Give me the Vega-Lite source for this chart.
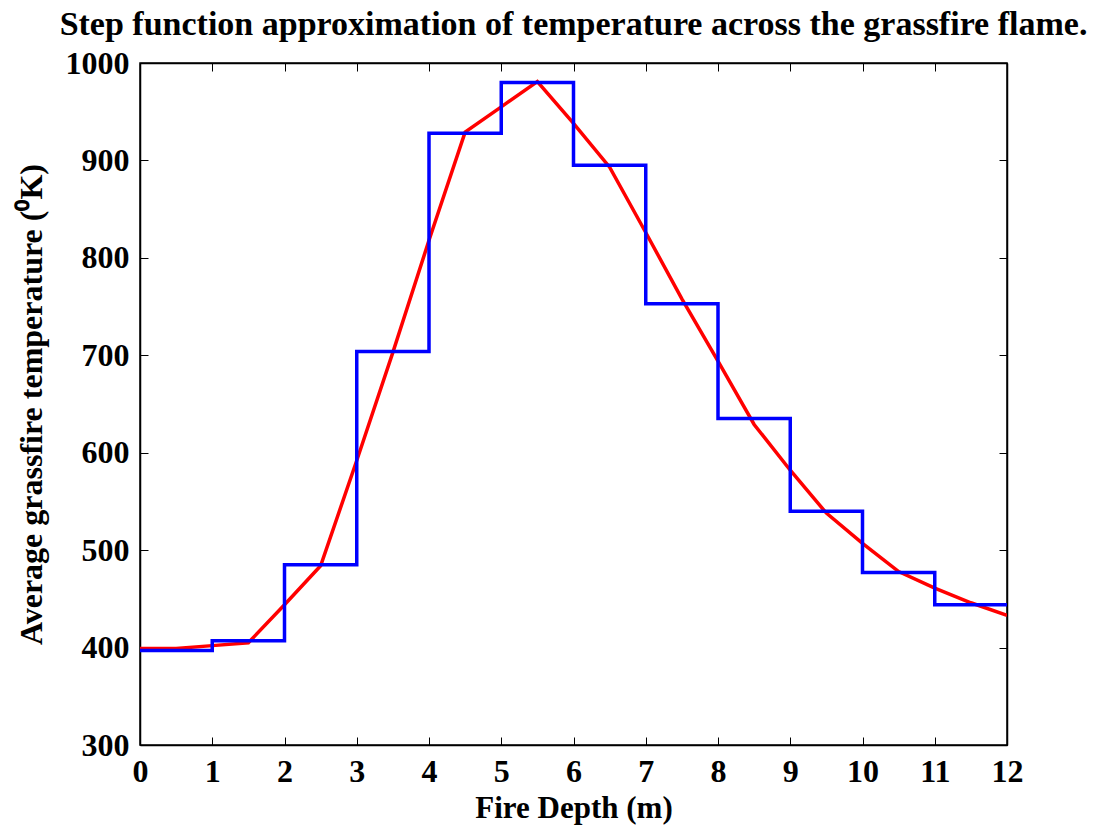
{
  "$schema": "https://vega.github.io/schema/vega-lite/v6.json",
  "autosize": {"type": "none"},
  "padding": {"left": 140, "top": 63, "right": 90, "bottom": 82},
  "width": 867,
  "height": 682,
  "background": "white",
  "title": {
    "text": "Step function approximation of temperature across the grassfire flame.",
    "font": "Liberation Serif",
    "fontSize": 34,
    "fontWeight": "bold",
    "color": "black",
    "anchor": "middle",
    "offset": 5
  },
  "datasets": {
    "curve": [
      {"x": 0, "t": 399}, {"x": 0.5, "t": 399}, {"x": 1, "t": 402}, {"x": 1.5, "t": 405},
      {"x": 2, "t": 444}, {"x": 2.5, "t": 484}, {"x": 3, "t": 592}, {"x": 3.5, "t": 703},
      {"x": 4, "t": 818}, {"x": 4.5, "t": 929}, {"x": 5, "t": 955}, {"x": 5.5, "t": 981},
      {"x": 6, "t": 938}, {"x": 6.5, "t": 893}, {"x": 7, "t": 826}, {"x": 7.5, "t": 758},
      {"x": 8, "t": 694}, {"x": 8.5, "t": 629}, {"x": 9, "t": 582}, {"x": 9.5, "t": 538},
      {"x": 10, "t": 507}, {"x": 10.5, "t": 478}, {"x": 11, "t": 461}, {"x": 11.5, "t": 446},
      {"x": 12, "t": 433}
    ],
    "steps": [
      {"x": 0, "t": 397}, {"x": 1, "t": 407}, {"x": 2, "t": 485}, {"x": 3, "t": 704},
      {"x": 4, "t": 928}, {"x": 5, "t": 980}, {"x": 6, "t": 895}, {"x": 7, "t": 753},
      {"x": 8, "t": 635}, {"x": 9, "t": 540}, {"x": 10, "t": 477}, {"x": 11, "t": 444},
      {"x": 12, "t": 444}
    ]
  },
  "layer": [
    {
      "data": {"name": "curve"},
      "mark": {"type": "line", "color": "#ff0000", "strokeWidth": 3.5, "interpolate": "linear", "clip": true},
      "encoding": {
        "x": {
          "field": "x", "type": "quantitative",
          "scale": {"domain": [0, 12], "nice": false},
          "axis": {
            "orient": "bottom", "values": [0,1,2,3,4,5,6,7,8,9,10,11,12], "format": "d",
            "labelFlush": false, "labelOverlap": false,
            "title": "Fire Depth (m)", "tickSize": -8, "labelPadding": 19, "titlePadding": 6,
            "titleFontSize": 31
          }
        },
        "y": {
          "field": "t", "type": "quantitative",
          "scale": {"domain": [300, 1000], "nice": false, "zero": false},
          "axis": {
            "orient": "left", "values": [300,400,500,600,700,800,900,1000], "format": "d",
            "labelFlush": false, "labelOverlap": false,
            "title": "Average grassfire temperature (⁰K)", "tickSize": -8, "labelPadding": 19, "titlePadding": 17,
            "titleFontSize": 32
          }
        }
      }
    },
    {
      "data": {"name": "steps"},
      "mark": {"type": "line", "color": "#0000ff", "strokeWidth": 3.5, "interpolate": "step-after", "clip": true},
      "encoding": {
        "x": {
          "field": "x", "type": "quantitative",
          "scale": {"domain": [0, 12], "nice": false},
          "axis": {
            "orient": "top", "values": [0,1,2,3,4,5,6,7,8,9,10,11,12],
            "title": null, "labels": false, "tickSize": -8
          }
        },
        "y": {
          "field": "t", "type": "quantitative",
          "scale": {"domain": [300, 1000], "nice": false, "zero": false},
          "axis": {
            "orient": "right", "values": [300,400,500,600,700,800,900,1000],
            "title": null, "labels": false, "tickSize": -8
          }
        }
      }
    }
  ],
  "resolve": {"axis": {"x": "independent", "y": "independent"}},
  "config": {
    "font": "Liberation Serif",
    "view": {"stroke": "black", "strokeWidth": 1.5},
    "axis": {
      "grid": false,
      "domainColor": "black",
      "domainWidth": 1.5,
      "tickColor": "black",
      "tickWidth": 1,
      "labelFont": "Liberation Serif",
      "labelFontSize": 32,
      "labelFontWeight": "bold",
      "labelColor": "black",
      "titleFont": "Liberation Serif",
      "titleFontWeight": "bold",
      "titleColor": "black"
    }
  }
}
